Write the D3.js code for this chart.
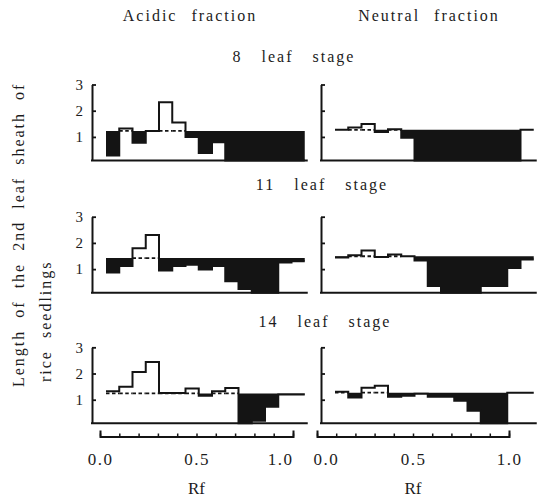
<!DOCTYPE html>
<html>
<head>
<meta charset="utf-8">
<script src="https://cdn.jsdelivr.net/npm/d3@7"></script>
</head>
<body style="margin:0">
<div id="chart"></div>
<script>
// titles
const fractions = ["Acidic fraction", "Neutral fraction"];
const stages = ["8 leaf stage", "11 leaf stage", "14 leaf stage"];
const yTitle = ["Length of the 2nd leaf sheath of", "rice seedlings"];

// control level for each stage (8, 11, 14 leaf)
const acidicControl = [1.23, 1.42, 1.24];
const neutralControl = [1.27, 1.49, 1.27];

// sheath length for each of the 15 Rf zones
const acidic8 = [0.29, 1.32, 0.78, 1.23, 2.32, 1.55, 1.0, 0.39, 0.8, 0.1, 0.1, 0.1, 0.1, 0.1, 0.1];
const acidic11 = [0.87, 1.12, 1.8, 2.3, 0.95, 1.12, 1.17, 0.99, 1.12, 0.54, 0.24, 0.1, 0.1, 1.25, 1.3];
const acidic14 = [1.32, 1.49, 2.06, 2.44, 1.26, 1.26, 1.43, 1.15, 1.32, 1.45, 0.1, 0.2, 0.73, 1.2, 1.2];
const neutral8 = [1.27, 1.36, 1.49, 1.19, 1.29, 0.97, 0.1, 0.1, 0.1, 0.1, 0.1, 0.1, 0.1, 0.1, 1.27];
const neutral11 = [1.44, 1.53, 1.71, 1.46, 1.56, 1.49, 1.33, 0.36, 0.1, 0.1, 0.1, 0.36, 0.36, 1.04, 1.37];
const neutral14 = [1.3, 1.08, 1.46, 1.53, 1.11, 1.15, 1.23, 1.11, 1.11, 0.96, 0.58, 0.1, 0.1, 1.27, 1.27];

const yTicks = [1, 2, 3];
const rfTicks = [0, 0.1, 0.2, 0.3, 0.4, 0.5, 0.6, 0.7, 0.8, 0.9, 1];
const rfLabels = [0, 0.5, 1];

const panels = [
    { col: 0, row: 0, values: acidic8, control: acidicControl[0] },
    { col: 1, row: 0, values: neutral8, control: neutralControl[0] },
    { col: 0, row: 1, values: acidic11, control: acidicControl[1] },
    { col: 1, row: 1, values: neutral11, control: neutralControl[1] },
    { col: 0, row: 2, values: acidic14, control: acidicControl[2] },
    { col: 1, row: 2, values: neutral14, control: neutralControl[2] }
];

// layout
const width = 549, height = 497;
const colAxisX = [92, 321];
const colBinStart = [106, 335];
const binWidth = 13.25;
const nBins = 15;
const rowBase = [160.5, 292.7, 423.3];
const panelH = 76;
const rfRange = [[100, 293], [317, 509]];
const rfY = 436.5;
const ink = "#141414";
const textInk = "#1c1c1c";
const fontFace = "'Liberation Serif', Tinos, 'Times New Roman'";

const svg = d3.select("#chart")
    .append("svg")
    .attr("width", width)
    .attr("height", height)
    .style("font-family", fontFace);

svg.append("rect").attr("width", width).attr("height", height).attr("fill", "#fff");

panels.forEach(p => {
    const x = d3.scaleLinear()
        .domain([0, nBins])
        .range([colBinStart[p.col], colBinStart[p.col] + nBins * binWidth]);
    const y = d3.scaleLinear()
        .domain([0.1, 3])
        .range([rowBase[p.row], rowBase[p.row] - panelH]);

    const g = svg.append("g");
    const pts = p.values.map((v, i) => ({ i: i, v: v }))
        .concat([{ i: nBins, v: p.values[nBins - 1] }]);

    // black area where the zone falls below control
    g.append("path")
        .datum(pts)
        .attr("d", d3.area()
            .curve(d3.curveStepAfter)
            .x(d => x(d.i))
            .y0(y(p.control))
            .y1(d => y(Math.min(d.v, p.control))))
        .attr("fill", ink);

    // dashed control level under zones above it
    g.selectAll("line.ctl")
        .data(pts.slice(0, nBins).filter(d => d.v > p.control))
        .join("line")
        .attr("class", "ctl")
        .attr("x1", d => x(d.i))
        .attr("x2", d => x(d.i + 1))
        .attr("y1", y(p.control))
        .attr("y2", y(p.control))
        .attr("stroke", ink)
        .attr("stroke-width", 1.8)
        .attr("stroke-dasharray", "3.5,2.5");

    // step outline
    g.append("path")
        .datum(pts)
        .attr("d", d3.line()
            .curve(d3.curveStepAfter)
            .x(d => x(d.i))
            .y(d => y(d.v)))
        .attr("fill", "none")
        .attr("stroke", ink)
        .attr("stroke-width", 2);

    // y axis, ticks point inward
    const axisX = colAxisX[p.col];
    const ax = g.append("g")
        .attr("transform", `translate(${axisX},0)`)
        .call(d3.axisLeft(y)
            .tickValues(yTicks)
            .tickSizeInner(-4)
            .tickSizeOuter(0)
            .tickPadding(9)
            .tickFormat(p.col === 0 ? d3.format("d") : () => ""))
        .attr("font-size", 15);
    ax.select(".domain").attr("stroke", ink).attr("stroke-width", 2);
    ax.selectAll(".tick line").attr("stroke", ink).attr("stroke-width", 1.8);
    ax.selectAll(".tick text").attr("fill", textInk).style("font-family", fontFace);

    // baseline
    g.append("line")
        .attr("x1", axisX - 1)
        .attr("x2", x(nBins) + 3)
        .attr("y1", y(0.1))
        .attr("y2", y(0.1))
        .attr("stroke", ink)
        .attr("stroke-width", 2);
});

// Rf axes
rfRange.forEach((r, c) => {
    const rf = d3.scaleLinear().domain([0, 1]).range(r);
    const ax = svg.append("g")
        .attr("transform", `translate(0,${rfY})`)
        .call(d3.axisBottom(rf)
            .tickValues(rfTicks)
            .tickSizeInner(-3)
            .tickSizeOuter(-6)
            .tickPadding(16)
            .tickFormat(d => rfLabels.includes(d) ? d3.format(".1f")(d) : ""))
        .attr("font-size", 17);
    ax.select(".domain").attr("stroke", ink).attr("stroke-width", 2);
    ax.selectAll(".tick line").attr("stroke", ink).attr("stroke-width", 1.5);
    ax.selectAll(".tick text")
        .attr("fill", textInk)
        .style("font-family", fontFace)
        .style("letter-spacing", "1.5px")
        .attr("text-anchor", d => (c === 0 && d === 1) ? "end" : (c === 1 && d === 0) ? "start" : "middle")
        .attr("dx", d => (c === 1 && d === 0) ? -4 : 0);

    svg.append("text")
        .attr("x", rf(0.5))
        .attr("y", 494)
        .attr("text-anchor", "middle")
        .style("font-family", fontFace)
        .attr("font-size", 17)
        .attr("fill", textInk)
        .text("Rf");
});

// column titles
svg.selectAll("text.frac")
    .data(fractions)
    .join("text")
    .attr("class", "frac")
    .attr("x", (d, i) => [190, 429][i])
    .attr("y", 21)
    .attr("text-anchor", "middle")
    .style("font-family", fontFace)
    .attr("font-size", 16)
    .attr("fill", textInk)
    .style("letter-spacing", "2px")
    .style("word-spacing", "8px")
    .text(d => d);

// stage titles
svg.selectAll("text.stage")
    .data(stages)
    .join("text")
    .attr("class", "stage")
    .attr("x", (d, i) => [294, 322, 325][i])
    .attr("y", (d, i) => [62, 190, 327][i])
    .attr("text-anchor", "middle")
    .style("font-family", fontFace)
    .attr("font-size", 16)
    .attr("fill", textInk)
    .style("letter-spacing", "2px")
    .style("word-spacing", "13px")
    .text(d => d);

// y title, two lines
svg.selectAll("text.ytitle")
    .data(yTitle)
    .join("text")
    .attr("class", "ytitle")
    .attr("transform", (d, i) => `translate(${[24, 51][i]},${[387, 382][i]}) rotate(-90)`)
    .style("font-family", fontFace)
    .attr("font-size", 16)
    .attr("fill", textInk)
    .style("letter-spacing", "2px")
    .style("word-spacing", "6px")
    .text(d => d);
</script>
</body>
</html>
